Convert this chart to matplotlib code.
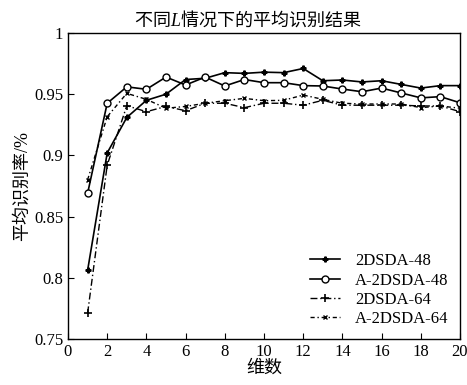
import matplotlib
matplotlib.use("Agg")
import matplotlib.pyplot as plt

plt.rcParams['font.family'] = ['Liberation Serif', 'Noto Sans CJK SC', 'DejaVu Sans']
plt.rcParams['mathtext.fontset'] = 'custom'
plt.rcParams['mathtext.it'] = 'Liberation Serif:italic'
plt.rcParams['mathtext.rm'] = 'Noto Sans CJK SC'

dims = list(range(1, 21))
sda48 = [0.806, 0.902, 0.931, 0.945, 0.950, 0.962, 0.963, 0.9676, 0.967, 0.968,
         0.9676, 0.971, 0.961, 0.9616, 0.960, 0.961, 0.958, 0.955, 0.957, 0.957]
asda48 = [0.869, 0.9426, 0.956, 0.954, 0.964, 0.9575, 0.964, 0.9567, 0.962, 0.9594,
          0.9594, 0.957, 0.9567, 0.9542, 0.952, 0.955, 0.951, 0.947, 0.948, 0.943]
sda64 = [0.771, 0.892, 0.9406, 0.9357, 0.940, 0.9365, 0.9426, 0.9426, 0.939, 0.9426,
         0.9426, 0.941, 0.945, 0.941, 0.941, 0.941, 0.941, 0.9404, 0.9404, 0.9357]
asda64 = [0.880, 0.9316, 0.9507, 0.9458, 0.9385, 0.940, 0.9426, 0.9447, 0.9466, 0.9447,
          0.945, 0.9493, 0.9458, 0.9426, 0.942, 0.942, 0.942, 0.939, 0.9404, 0.9385]
labels = ['2DSDA-48', 'A-2DSDA-48', '2DSDA-64', 'A-2DSDA-64']
xticks = list(range(0, 21, 2))
yticks = [0.75, 0.8, 0.85, 0.9, 0.95, 1]
yticklabels = ['0.75', '0.8', '0.85', '0.9', '0.95', '1']

fig = plt.figure(figsize=(4.67, 3.85), dpi=100)
ax = fig.add_axes([0.1456, 0.1195, 0.8394, 0.7948])

ax.plot(dims, sda48, color='black', lw=1.2, ls='-', marker='P', ms=3.5, label=labels[0])
ax.plot(dims, asda48, color='black', lw=1.2, ls='-', marker='o', ms=5, mfc='white', mew=1.0, label=labels[1])
ax.plot(dims, sda64, color='black', lw=1.0, ls=(0, (5, 2, 1, 2)), marker='+', ms=6, mew=1.2, label=labels[2])
ax.plot(dims, asda64, color='black', lw=1.0, ls=(0, (3, 2, 1, 2)), marker='x', ms=3.5, mew=1.0, label=labels[3])

ax.set_xlim(0, 20)
ax.set_ylim(0.75, 1)
ax.set_xticks(xticks)
ax.set_yticks(yticks)
ax.set_yticklabels(yticklabels)
ax.tick_params(direction='in', labelsize=12, length=4, top=False, right=False)
for s in ax.spines.values():
    s.set_linewidth(1.0)

ax.set_title(r'不同$L$情况下的平均识别结果', fontsize=13, pad=5, family='Noto Sans CJK SC', x=0.46)
ax.set_xlabel('维数', fontsize=13, labelpad=0)
ax.set_ylabel('平均识别率/%', fontsize=13, labelpad=2)

ax.legend(loc='lower right', frameon=False, fontsize=12, handlelength=1.8,
          labelspacing=0.2, borderaxespad=0.3, handletextpad=0.9)

fig.savefig('out.png', dpi=100)
